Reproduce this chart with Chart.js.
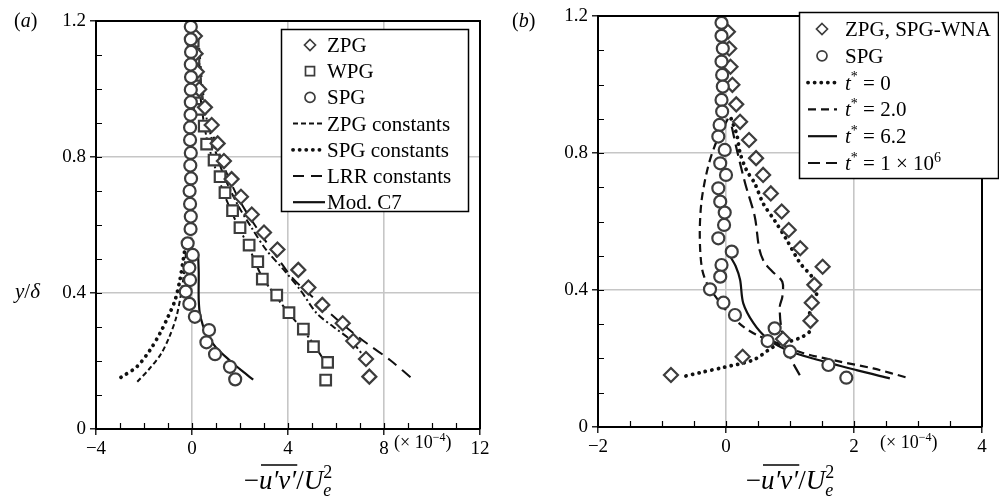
<!DOCTYPE html>
<html>
<head>
<meta charset="utf-8">
<script src="https://cdn.jsdelivr.net/npm/chart.js@4.4.1/dist/chart.umd.min.js"></script>
<style>
  html, body { margin: 0; padding: 0; background: #fff; }
  #wrap { position: relative; width: 999px; height: 504px; overflow: hidden; }
  canvas { position: absolute; top: 0; }
</style>
</head>
<body>
<div id="wrap">
  <canvas id="panel-a" width="500" height="504" style="left:0"></canvas>
  <canvas id="panel-b" width="499" height="504" style="left:500px"></canvas>
</div>
<script>
// ---- Data, panel (a): x in units of 1e-4, y = y/delta ----
const aZpgY = [1.156, 1.104, 1.051, 0.999, 0.946, 0.894, 0.840, 0.788, 0.735, 0.683, 0.631, 0.578, 0.528, 0.468, 0.416, 0.365, 0.311, 0.259, 0.206, 0.154];
const aZpgX = [0.12, 0.15, 0.2, 0.3, 0.54, 0.82, 1.07, 1.33, 1.65, 2.04, 2.49, 3.0, 3.56, 4.43, 4.85, 5.43, 6.28, 6.72, 7.25, 7.39];

const aWpgY = [1.14, 1.09, 1.04, 0.99, 0.94, 0.891, 0.838, 0.791, 0.742, 0.695, 0.642, 0.592, 0.541, 0.492, 0.441, 0.394, 0.342, 0.294, 0.242, 0.196, 0.144];
const aWpgX = [0.05, 0.08, 0.14, 0.2, 0.3, 0.51, 0.61, 0.92, 1.17, 1.375, 1.69, 2.0, 2.38, 2.74, 2.93, 3.53, 4.04, 4.64, 5.06, 5.65, 5.57];

const aSpgY = [1.183, 1.146, 1.109, 1.072, 1.035, 0.998, 0.961, 0.924, 0.887, 0.850, 0.812, 0.775, 0.737, 0.700, 0.662, 0.625, 0.588, 0.546, 0.512, 0.474, 0.438, 0.404, 0.368, 0.330, 0.291, 0.255, 0.220, 0.183, 0.146];
const aSpgX = [-0.05, -0.05, -0.04, -0.05, -0.04, -0.05, -0.05, -0.06, -0.08, -0.08, -0.05, -0.07, -0.04, -0.1, -0.08, -0.05, -0.06, -0.18, 0.03, -0.11, -0.08, -0.26, -0.11, 0.12, 0.71, 0.6, 0.96, 1.58, 1.8];

// model curves, panel (a)
const aZpgConstLX = [-2.28, -1.8, -1.3, -0.95, -0.65, -0.45, -0.33, -0.25];
const aZpgConstLY = [0.139, 0.175, 0.22, 0.27, 0.33, 0.40, 0.46, 0.52];
const aZpgConstWX = [0.2, 0.35, 0.6, 1.0, 1.4, 1.9, 2.4, 2.9, 3.5, 4.1, 4.7, 5.2, 5.7];
const aZpgConstWY = [1.15, 0.98, 0.86, 0.76, 0.68, 0.6, 0.53, 0.45, 0.39, 0.335, 0.285, 0.235, 0.18];
const aZpgConstDX = [0.25, 0.45, 0.8, 1.3, 1.9, 2.5, 3.1, 3.8, 4.5, 5.2, 5.9, 6.6, 7.2];
const aZpgConstDY = [1.12, 0.97, 0.86, 0.75, 0.66, 0.59, 0.526, 0.47, 0.41, 0.34, 0.3, 0.262, 0.21];
const aSpgConstX = [-2.96, -2.3, -1.75, -1.33, -1.0, -0.7, -0.5, -0.36, -0.25];
const aSpgConstY = [0.152, 0.183, 0.232, 0.282, 0.33, 0.38, 0.44, 0.50, 0.55];
const aLrrX = [0.3, 0.5, 0.9, 1.4, 2.0, 2.8, 3.6, 4.2, 5.0, 5.75, 6.5, 7.28, 8.25, 9.3];
const aLrrY = [1.12, 0.97, 0.86, 0.76, 0.67, 0.58, 0.5, 0.443, 0.39, 0.34, 0.295, 0.252, 0.203, 0.14];
const aModC7X = [0.25, 0.28, 0.28, 0.35, 0.6, 1.0, 1.6, 2.1, 2.55];
const aModC7Y = [0.52, 0.46, 0.38, 0.33, 0.28, 0.24, 0.20, 0.17, 0.145];

// ---- Data, panel (b) ----
const bZpgY = [1.154, 1.105, 1.052, 0.999, 0.942, 0.891, 0.838, 0.785, 0.736, 0.682, 0.629, 0.575, 0.522, 0.468, 0.415, 0.363, 0.31, 0.257, 0.205, 0.152];
const bZpgX = [0.03, 0.05, 0.07, 0.1, 0.16, 0.22, 0.36, 0.47, 0.58, 0.70, 0.87, 0.98, 1.16, 1.51, 1.38, 1.34, 1.32, 0.89, 0.26, -0.86];

const bSpgY = [1.18, 1.142, 1.105, 1.067, 1.028, 0.994, 0.955, 0.921, 0.882, 0.848, 0.809, 0.77, 0.736, 0.697, 0.658, 0.626, 0.59, 0.551, 0.512, 0.473, 0.439, 0.402, 0.363, 0.327, 0.288, 0.251, 0.22, 0.181, 0.144];
const bSpgX = [-0.07, -0.07, -0.05, -0.07, -0.06, -0.05, -0.07, -0.06, -0.1, -0.12, -0.02, -0.09, 0, -0.12, -0.09, -0.02, -0.03, -0.12, 0.09, -0.07, -0.09, -0.25, -0.04, 0.14, 0.76, 0.65, 1.0, 1.6, 1.88];

const bT0X = [0.08, 0.17, 0.22, 0.32, 0.45, 0.58, 0.77, 0.95, 1.16, 1.36, 1.42, 1.36, 1.3, 1.32, 1.2, 1.0, 0.75, 0.43, -0.04, -0.4, -0.67];
const bT0Y = [0.9, 0.853, 0.8, 0.75, 0.711, 0.653, 0.6, 0.546, 0.478, 0.434, 0.395, 0.36, 0.325, 0.283, 0.264, 0.25, 0.235, 0.196, 0.174, 0.159, 0.147];
const bT2X = [0.03, -0.15, -0.28, -0.38, -0.41, -0.38, -0.3, -0.12, 0.04, 0.27, 0.48, 0.8, 1.2, 1.78, 2.3, 2.85];
const bT2Y = [0.9, 0.833, 0.76, 0.663, 0.565, 0.468, 0.42, 0.37, 0.332, 0.293, 0.269, 0.245, 0.216, 0.191, 0.171, 0.143];
const bT62X = [0.06, 0.15, 0.22, 0.27, 0.43, 0.64, 0.95, 1.36, 2.04, 2.56];
const bT62Y = [0.50, 0.47, 0.43, 0.361, 0.303, 0.259, 0.225, 0.2, 0.166, 0.142];
const bT1e6X = [0.09, 0.17, 0.3, 0.45, 0.52, 0.6, 0.72, 0.88, 0.88, 0.84, 0.87, 1.0, 1.18];
const bT1e6Y = [0.877, 0.809, 0.711, 0.614, 0.52, 0.48, 0.455, 0.424, 0.38, 0.351, 0.283, 0.205, 0.142];

// ---- Axis ticks ----
const aXTicks = [-4, 0, 4, 8, 12];
const aXTickLabels = ['\u22124', '0', '4', '8', '12'];
const bXTicks = [-2, 0, 2, 4];
const bXTickLabels = ['\u22122', '0', '2', '4'];
const yTicks = [0, 0.4, 0.8, 1.2];
const yTickLabels = ['0', '0.4', '0.8', '1.2'];

const aLegendLabels = ['ZPG', 'WPG', 'SPG', 'ZPG constants', 'SPG constants', 'LRR constants', 'Mod. C7'];
const bLegendLabels = ['ZPG, SPG-WNA', 'SPG'];

const SERIF = '"Liberation Serif", "DejaVu Serif", serif';
const MARK = '#3c3c3c';
const LINE = '#111';

// dash styles shared by data lines and legend samples
const STY = {
  zpgConst: { dash: [5, 3], width: 2, cap: 'butt' },
  dashDot: { dash: [7, 3, 2, 3], width: 2, cap: 'butt' },
  dotted: { dash: [0.1, 6.5], width: 3.8, cap: 'round' },
  lrr: { dash: [11, 7], width: 2, cap: 'butt' },
  solid: { dash: [], width: 2.2, cap: 'butt' },
  t2: { dash: [8, 5], width: 2.2, cap: 'butt' },
  t1e6: { dash: [12, 6], width: 2.2, cap: 'butt' },
};

const pts = (xs, ys) => xs.map((x, i) => ({ x: x, y: ys[i] }));

const markers = (label, xs, ys, style, radius, order) => ({
  label: label,
  data: pts(xs, ys),
  showLine: false,
  pointStyle: style,
  pointRadius: radius,
  pointBorderWidth: 2.2,
  borderColor: MARK,
  backgroundColor: '#fff',
  order: order,
});

const curve = (label, xs, ys, sty) => ({
  label: label,
  data: pts(xs, ys),
  showLine: true,
  pointRadius: 0,
  borderColor: LINE,
  borderWidth: sty.width,
  borderDash: sty.dash,
  borderCapStyle: sty.cap,
  tension: 0.3,
  fill: false,
  order: 5,
});

// draws a run of mixed text (italic, sub/superscripts), returns segment extents
function rich(ctx, x, y, parts, size, align) {
  const segs = parts.map((p) => {
    const small = p.sup || p.sub;
    const fs = small ? Math.round(size * 0.68) : size;
    const font = (p.it ? 'italic ' : '') + fs + 'px ' + SERIF;
    ctx.font = font;
    return Object.assign({}, p, {
      font: font,
      w: ctx.measureText(p.t).width,
      dy: p.sup ? -size * 0.4 : p.sub ? size * 0.25 : 0,
    });
  });
  let total = 0;
  segs.forEach((g, i) => {
    if (g.stack && i > 0) total += Math.max(0, g.w - segs[i - 1].w);
    else total += g.w;
  });
  let cx = align === 'center' ? x - total / 2 : x;
  ctx.textAlign = 'left';
  ctx.textBaseline = 'alphabetic';
  ctx.fillStyle = '#000';
  segs.forEach((g, i) => {
    if (g.stack && i > 0) cx = segs[i - 1].x0;
    ctx.font = g.font;
    ctx.fillText(g.t, cx, y + g.dy);
    g.x0 = cx;
    cx += g.w;
    g.x1 = cx;
  });
  return segs;
}

function legendMarker(ctx, kind, x, y) {
  ctx.save();
  ctx.strokeStyle = MARK;
  ctx.lineWidth = 1.7;
  ctx.fillStyle = '#fff';
  ctx.beginPath();
  if (kind === 'diamond') {
    const r = 5.5;
    ctx.moveTo(x, y - r); ctx.lineTo(x + r, y); ctx.lineTo(x, y + r); ctx.lineTo(x - r, y); ctx.closePath();
  } else if (kind === 'square') {
    ctx.rect(x - 4.5, y - 4.5, 9, 9);
  } else {
    ctx.arc(x, y, 5, 0, Math.PI * 2);
  }
  ctx.fill();
  ctx.stroke();
  ctx.restore();
}

function legendLine(ctx, sty, x0, x1, y) {
  ctx.save();
  ctx.strokeStyle = LINE;
  ctx.lineWidth = sty.width;
  ctx.setLineDash(sty.dash);
  ctx.lineCap = sty.cap;
  ctx.beginPath();
  ctx.moveTo(x0, y);
  ctx.lineTo(x1, y);
  ctx.stroke();
  ctx.restore();
}

function xTitle(ctx, cx, base) {
  const segs = rich(ctx, cx, base, [
    { t: '\u2212' },
    { t: 'u\u2032v\u2032', it: true, over: true },
    { t: '/' },
    { t: 'U', it: true },
    { t: 'e', it: true, sub: true },
    { t: '2', sup: true, stack: true },
  ], 27, 'center');
  const o = segs[1];
  ctx.strokeStyle = '#000';
  ctx.lineWidth = 1.4;
  ctx.beginPath();
  ctx.moveTo(o.x0 + 2, base - 24);
  ctx.lineTo(o.x1 + 1, base - 24);
  ctx.stroke();
}

// frame, minor ticks, labels and legend
function decor(opt) {
  return {
    id: 'decor',
    afterDraw(chart) {
      const ctx = chart.ctx;
      const a = chart.chartArea;
      const xs = chart.scales.x;
      const ys = chart.scales.y;
      ctx.save();
      ctx.strokeStyle = '#000';
      ctx.lineWidth = 2;
      ctx.beginPath();
      ctx.moveTo(a.left, a.top);
      ctx.lineTo(a.right, a.top);
      ctx.lineTo(a.right, a.bottom);
      ctx.stroke();

      // inward minor ticks
      ctx.lineWidth = 1.2;
      ctx.beginPath();
      for (let v = xs.min + opt.xMinor; v < xs.max - 1e-6; v += opt.xMinor) {
        const px = Math.round(xs.getPixelForValue(v)) + 0.5;
        ctx.moveTo(px, a.bottom);
        ctx.lineTo(px, a.bottom - 6);
      }
      for (let v = ys.min + 0.1; v < ys.max - 1e-6; v += 0.1) {
        const py = Math.round(ys.getPixelForValue(v)) + 0.5;
        ctx.moveTo(a.left, py);
        ctx.lineTo(a.left + 6, py);
      }
      ctx.stroke();

      // panel letter
      rich(ctx, opt.letterX, 27, [{ t: '(' }, { t: opt.letter, it: true }, { t: ')' }], 20, 'left');
      if (opt.yTitle) {
        rich(ctx, 15, 298, [{ t: 'y', it: true }, { t: '/' }, { t: '\u03b4', it: true }], 21, 'left');
      }
      // scale factor
      rich(ctx, opt.expX, 448, [{ t: '(\u00d7 10' }, { t: '\u22124', sup: true }, { t: ')' }], 18, 'left');
      xTitle(ctx, opt.titleX, 489);

      // legend
      const L = opt.legend;
      ctx.fillStyle = '#fff';
      ctx.fillRect(L.x0, L.y0, L.x1 - L.x0, L.y1 - L.y0);
      ctx.strokeStyle = '#000';
      ctx.lineWidth = 1.5;
      ctx.strokeRect(L.x0 + 0.5, L.y0 + 0.5, L.x1 - L.x0, L.y1 - L.y0);
      L.rows.forEach((r, i) => {
        const y = L.rowY0 + i * L.rowDy;
        if (r.marker) legendMarker(ctx, r.marker, L.markX, y);
        else legendLine(ctx, r.sty, L.lineX0, L.lineX1, y);
        rich(ctx, L.textX, y + 7, r.parts, 21, 'left');
      });
      ctx.restore();
    },
  };
}

function scaleOpts(min, max, ticks, labels, isX) {
  return {
    type: 'linear',
    min: min,
    max: max,
    afterBuildTicks: (s) => { s.ticks = ticks.map((v) => ({ value: v })); },
    afterFit: (s) => { if (isX) s.height = 40; else s.width = 60; },
    border: { display: true, color: '#000', width: 2 },
    grid: {
      color: (c) => (c.tick && (c.tick.value === min || c.tick.value === max) ? 'rgba(0,0,0,0)' : '#c6c6c6'),
      lineWidth: 1.6,
      drawTicks: true,
      tickLength: 6,
      tickColor: '#000',
      tickWidth: 1.3,
    },
    ticks: {
      padding: isX ? 3 : 4,
      color: '#000',
      font: { family: SERIF, size: 19 },
      callback: (v) => { const i = ticks.indexOf(v); return i >= 0 ? labels[i] : ''; },
      maxRotation: 0,
    },
  };
}

function baseOptions(padding, xs, ys) {
  return {
    responsive: false,
    animation: false,
    events: [],
    layout: { padding: padding },
    plugins: { legend: { display: false }, tooltip: { enabled: false } },
    scales: { x: xs, y: ys },
  };
}

// ---- Panel (a) ----
new Chart(document.getElementById('panel-a'), {
  type: 'scatter',
  data: {
    datasets: [
      markers('SPG', aSpgX, aSpgY, 'circle', 6, 0),
      markers('ZPG', aZpgX, aZpgY, 'rectRot', 7, 1),
      markers('WPG', aWpgX, aWpgY, 'rect', 7.5, 1),
      curve('ZPG constants', aZpgConstLX, aZpgConstLY, STY.zpgConst),
      curve('ZPG constants', aZpgConstWX, aZpgConstWY, STY.dashDot),
      curve('ZPG constants', aZpgConstDX, aZpgConstDY, STY.dashDot),
      curve('SPG constants', aSpgConstX, aSpgConstY, STY.dotted),
      curve('LRR constants', aLrrX, aLrrY, STY.lrr),
      curve('Mod. C7', aModC7X, aModC7Y, STY.solid),
    ],
  },
  options: baseOptions(
    { left: 36, right: 20, top: 21, bottom: 35 },
    scaleOpts(-4, 12, aXTicks, aXTickLabels, true),
    scaleOpts(0, 1.2, yTicks, yTickLabels, false)
  ),
  plugins: [decor({
    xMinor: 1, letter: 'a', letterX: 14, yTitle: true, expX: 394, titleX: 288,
    legend: {
      x0: 281, y0: 29, x1: 468, y1: 211, rowY0: 45, rowDy: 26.2,
      markX: 310, lineX0: 293, lineX1: 325, textX: 327,
      rows: [
        { marker: 'diamond', parts: [{ t: aLegendLabels[0] }] },
        { marker: 'square', parts: [{ t: aLegendLabels[1] }] },
        { marker: 'circle', parts: [{ t: aLegendLabels[2] }] },
        { sty: STY.zpgConst, parts: [{ t: aLegendLabels[3] }] },
        { sty: STY.dotted, parts: [{ t: aLegendLabels[4] }] },
        { sty: STY.lrr, parts: [{ t: aLegendLabels[5] }] },
        { sty: STY.solid, parts: [{ t: aLegendLabels[6] }] },
      ],
    },
  })],
});

// ---- Panel (b) ----
new Chart(document.getElementById('panel-b'), {
  type: 'scatter',
  data: {
    datasets: [
      markers('SPG', bSpgX, bSpgY, 'circle', 6, 0),
      markers('ZPG, SPG-WNA', bZpgX, bZpgY, 'rectRot', 7, 1),
      curve('t* = 0', bT0X, bT0Y, STY.dotted),
      curve('t* = 2.0', bT2X, bT2Y, STY.t2),
      curve('t* = 6.2', bT62X, bT62Y, STY.solid),
      curve('t* = 1e6', bT1e6X, bT1e6Y, STY.t1e6),
    ],
  },
  options: baseOptions(
    { left: 38, right: 17, top: 16, bottom: 37 },
    scaleOpts(-2, 4, bXTicks, bXTickLabels, true),
    scaleOpts(0, 1.2, yTicks, yTickLabels, false)
  ),
  plugins: [decor({
    xMinor: 0.5, letter: 'b', letterX: 12, yTitle: false, expX: 380, titleX: 290,
    legend: {
      x0: 299, y0: 12, x1: 498, y1: 178, rowY0: 29, rowDy: 26.8,
      markX: 322, lineX0: 308, lineX1: 337, textX: 345,
      rows: [
        { marker: 'diamond', parts: [{ t: bLegendLabels[0] }] },
        { marker: 'circle', parts: [{ t: bLegendLabels[1] }] },
        { sty: STY.dotted, parts: [{ t: 't', it: true }, { t: '*', sup: true }, { t: ' = 0' }] },
        { sty: STY.t2, parts: [{ t: 't', it: true }, { t: '*', sup: true }, { t: ' = 2.0' }] },
        { sty: STY.solid, parts: [{ t: 't', it: true }, { t: '*', sup: true }, { t: ' = 6.2' }] },
        { sty: STY.t1e6, parts: [{ t: 't', it: true }, { t: '*', sup: true }, { t: ' = 1 \u00d7 10' }, { t: '6', sup: true }] },
      ],
    },
  })],
});
</script>
</body>
</html>
